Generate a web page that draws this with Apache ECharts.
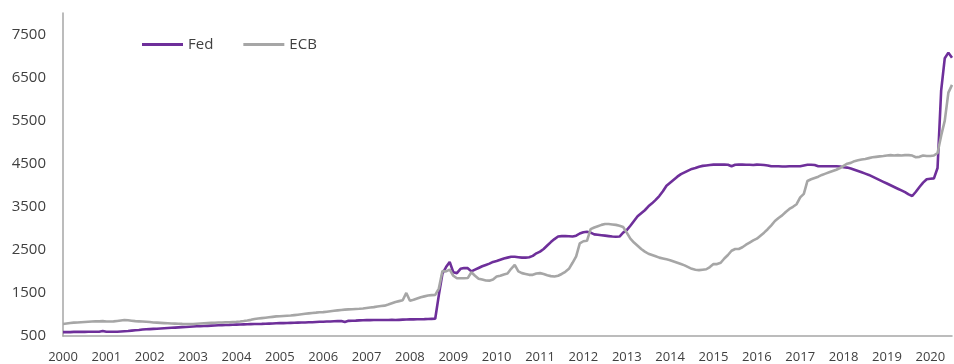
<!DOCTYPE html>
<html>
<head>
<meta charset="utf-8">
<script src="https://cdn.jsdelivr.net/npm/echarts@6/dist/echarts.min.js"></script>
<style>
  html, body { margin: 0; padding: 0; background: #fff; }
  #chart { width: 954px; height: 364px; }
</style>
</head>
<body>
<div id="chart"></div>
<script>
// monthly, Jan 2000 .. Jul 2020
var years = ['2000', '2001', '2002', '2003', '2004', '2005', '2006', '2007', '2008', '2009', '2010',
             '2011', '2012', '2013', '2014', '2015', '2016', '2017', '2018', '2019', '2020'];
var lastYearMonths = 7;

var fed = [
    590, 590, 590, 595, 595, 595, 595, 600, 600, 600, 600, 615,        // 2000
    600, 600, 600, 600, 605, 610, 615, 625, 635, 640, 650, 655,        // 2001
    660, 665, 670, 675, 680, 685, 690, 695, 700, 705, 710, 715,        // 2002
    720, 725, 728, 732, 736, 740, 744, 748, 752, 755, 758, 762,        // 2003
    765, 768, 770, 772, 775, 778, 780, 782, 785, 788, 790, 795,        // 2004
    798, 800, 802, 805, 808, 810, 812, 815, 818, 820, 825, 830,        // 2005
    832, 835, 838, 842, 846, 850, 825, 852, 855, 858, 862, 866,        // 2006
    868, 868, 870, 870, 872, 872, 872, 874, 870, 875, 880, 882,        // 2007
    885, 885, 888, 890, 892, 895, 898, 900, 1450, 1950, 2100, 2220,    // 2008
    1980, 1960, 2060, 2080, 2075, 2000, 2040, 2080, 2120, 2150, 2180, 2220, // 2009
    2240, 2270, 2300, 2320, 2340, 2340, 2330, 2320, 2320, 2330, 2360, 2420, // 2010
    2460, 2520, 2600, 2680, 2750, 2810, 2820, 2820, 2815, 2810, 2830, 2880, // 2011
    2910, 2920, 2900, 2860, 2850, 2840, 2830, 2820, 2810, 2805, 2810, 2900, // 2012
    2960, 3060, 3170, 3280, 3350, 3420, 3510, 3580, 3660, 3750, 3860, 3990, // 2013
    4060, 4130, 4200, 4260, 4300, 4340, 4380, 4400, 4430, 4450, 4460, 4470, // 2014
    4480, 4480, 4480, 4480, 4475, 4440, 4475, 4480, 4480, 4475, 4475, 4470, // 2015
    4480, 4475, 4470, 4460, 4440, 4440, 4440, 4435, 4435, 4440, 4440, 4440, // 2016
    4440, 4460, 4475, 4475, 4470, 4440, 4440, 4440, 4440, 4440, 4440, 4435, // 2017
    4420, 4410, 4390, 4360, 4330, 4300, 4270, 4240, 4200, 4160, 4120, 4080, // 2018
    4040, 4000, 3960, 3920, 3880, 3840, 3790, 3750, 3850, 3960, 4060, 4140, // 2019
    4150, 4160, 4400, 6200, 6950, 7080, 6960                                // 2020
];

var ecb = [
    780, 790, 800, 810, 815, 820, 825, 830, 835, 840, 840, 845,        // 2000
    835, 835, 840, 850, 860, 870, 865, 855, 845, 840, 835, 830,        // 2001
    825, 815, 810, 805, 800, 795, 790, 788, 785, 782, 780, 778,        // 2002
    780, 785, 790, 795, 800, 805, 808, 812, 815, 818, 820, 825,        // 2003
    830, 838, 848, 860, 875, 895, 905, 915, 925, 935, 945, 955,        // 2004
    960, 965, 970, 975, 985, 995, 1005, 1015, 1025, 1035, 1042, 1050,  // 2005
    1055, 1065, 1075, 1085, 1095, 1105, 1112, 1118, 1122, 1128, 1132, 1140, // 2006
    1150, 1160, 1170, 1185, 1195, 1205, 1230, 1260, 1290, 1310, 1330, 1500, // 2007
    1320, 1340, 1370, 1400, 1420, 1440, 1450, 1455, 1600, 2010, 2000, 2040, // 2008
    1900, 1840, 1840, 1840, 1845, 1980, 1900, 1830, 1810, 1790, 1785, 1810, // 2009
    1880, 1900, 1930, 1950, 2060, 2150, 2000, 1960, 1940, 1920, 1920, 1950, // 2010
    1960, 1940, 1910, 1890, 1880, 1900, 1940, 1990, 2060, 2200, 2350, 2650, // 2011
    2700, 2710, 2980, 3020, 3050, 3080, 3100, 3100, 3090, 3080, 3060, 3030, // 2012
    2900, 2760, 2670, 2595, 2520, 2460, 2410, 2380, 2350, 2320, 2300, 2280, // 2013
    2260, 2230, 2200, 2170, 2140, 2100, 2060, 2040, 2030, 2040, 2050, 2100, // 2014
    2170, 2170, 2200, 2300, 2380, 2480, 2520, 2520, 2560, 2620, 2670, 2720, // 2015
    2760, 2830, 2900, 2980, 3070, 3170, 3240, 3300, 3380, 3450, 3500, 3560, // 2016
    3720, 3800, 4100, 4140, 4170, 4200, 4240, 4270, 4300, 4330, 4360, 4400, // 2017
    4450, 4500, 4520, 4560, 4580, 4600, 4610, 4630, 4650, 4660, 4670, 4680, // 2018
    4690, 4700, 4690, 4700, 4690, 4700, 4700, 4690, 4650, 4660, 4690, 4680, // 2019
    4680, 4690, 4750, 5150, 5500, 6150, 6330                                // 2020
];

var yLabels = [500, 1500, 2500, 3500, 4500, 5500, 6500, 7500];

// category per month, label shown on January only
var months = [];
years.forEach(function (y, i) {
    var n = (i === years.length - 1) ? lastYearMonths : 12;
    for (var m = 1; m <= n; m++) {
        months.push(y + '-' + (m < 10 ? '0' + m : m));
    }
});

var chart = echarts.init(document.getElementById('chart'));

var option = {
    animation: false,
    textStyle: { fontFamily: 'Open Sans' },
    grid: { left: 63, right: 2, top: 13, bottom: 27 },
    legend: {
        left: 137,
        top: 32,
        icon: 'rect',
        itemWidth: 41,
        itemHeight: 3,
        itemGap: 30,
        data: ['Fed', 'ECB'],
        textStyle: { fontSize: 15, color: '#404040', padding: [0, 0, 0, 0] }
    },
    xAxis: {
        type: 'category',
        data: months,
        boundaryGap: false,
        axisLine: { lineStyle: { color: '#a6a6a6', width: 1.5 } },
        axisTick: { show: false },
        axisLabel: {
            interval: function (idx, val) { return val.slice(5) === '01'; },
            formatter: function (val) { return val.slice(0, 4); },
            fontSize: 13,
            color: '#404040',
            margin: 15
        },
        splitLine: { show: false }
    },
    yAxis: {
        type: 'value',
        min: 500,
        max: 8000,
        axisLine: { show: true, lineStyle: { color: '#a6a6a6', width: 1.5 } },
        axisTick: { show: false },
        splitLine: { show: false },
        axisLabel: {
            customValues: yLabels,
            formatter: function (v) { return String(v); },
            fontSize: 15,
            color: '#404040',
            margin: 17
        }
    },
    series: [
        {
            name: 'Fed',
            type: 'line',
            data: fed,
            symbol: 'none',
            lineStyle: { color: '#6e2f9a', width: 2.6 },
            itemStyle: { color: '#6e2f9a' }
        },
        {
            name: 'ECB',
            type: 'line',
            data: ecb,
            symbol: 'none',
            lineStyle: { color: '#a6a6a6', width: 2.6 },
            itemStyle: { color: '#a6a6a6' }
        }
    ]
};

chart.setOption(option);
</script>
</body>
</html>
